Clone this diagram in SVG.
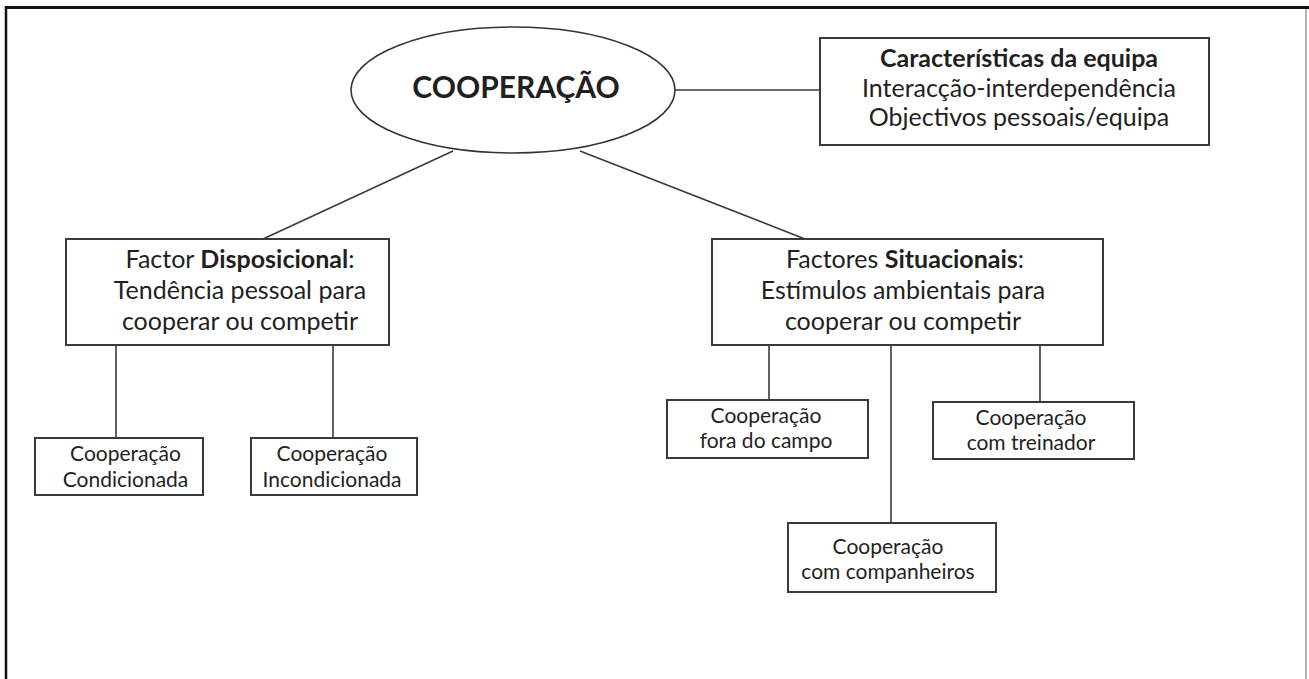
<svg xmlns="http://www.w3.org/2000/svg" width="1309" height="679" viewBox="0 0 1309 679">
<style>
  .box { fill: #fff; stroke: #3a3a3a; stroke-width: 2; }
  .conn line { stroke: #3a3a3a; stroke-width: 1.6; }
  text { font-family: Lato, "Open Sans", "Liberation Sans", sans-serif; fill: #231f20; text-anchor: middle; }
  .big { font-size: 25px; }
  .small { font-size: 21px; }
  .b { font-weight: bold; }
</style>
<rect width="1309" height="679" fill="#fff"/>
<g id="frame">
  <line x1="6" y1="7.5" x2="1309" y2="7.5" stroke="#111" stroke-width="3"/>
  <line x1="6" y1="6" x2="6" y2="679" stroke="#111" stroke-width="2.5"/>
  <line x1="1306" y1="9" x2="1306" y2="679" stroke="#999" stroke-width="1.5"/>
</g>
<g id="connectors" class="conn">
  <line x1="675" y1="90" x2="820" y2="90"/>
  <line x1="453" y1="151" x2="263" y2="239"/>
  <line x1="580" y1="151" x2="805" y2="239"/>
  <line x1="116" y1="345" x2="116" y2="438"/>
  <line x1="333" y1="345" x2="333" y2="438"/>
  <line x1="769" y1="345" x2="769" y2="400"/>
  <line x1="891" y1="345" x2="891" y2="523"/>
  <line x1="1040" y1="345" x2="1040" y2="402"/>
</g>
<g id="cooperacao">
  <ellipse cx="513" cy="90" rx="162" ry="63" fill="#fff" stroke="#333" stroke-width="1.6"/>
  <text x="516" y="98" class="b" style="font-size:30px">COOPERAÇÃO</text>
</g>
<g id="caracteristicas">
  <rect class="box" x="820" y="38" width="389" height="107"/>
  <text x="1019" y="67" class="big b">Características da equipa</text>
  <text x="1019" y="97" class="big">Interacção-interdependência</text>
  <text x="1019" y="126" class="big">Objectivos pessoais/equipa</text>
</g>
<g id="disposicional">
  <rect class="box" x="66" y="239" width="323" height="106"/>
  <text x="240" y="268" class="big">Factor <tspan class="b">Disposicional</tspan>:</text>
  <text x="240" y="299" class="big">Tendência pessoal para</text>
  <text x="240" y="330" class="big">cooperar ou competir</text>
</g>
<g id="situacionais">
  <rect class="box" x="712" y="239" width="391" height="106"/>
  <text x="905" y="268" class="big">Factores <tspan class="b">Situacionais</tspan>:</text>
  <text x="903" y="299" class="big">Estímulos ambientais para</text>
  <text x="903" y="330" class="big">cooperar ou competir</text>
</g>
<g id="condicionada">
  <rect class="box" x="35" y="438" width="168" height="57"/>
  <text x="125.5" y="461" class="small">Cooperação</text>
  <text x="125.5" y="487" class="small">Condicionada</text>
</g>
<g id="incondicionada">
  <rect class="box" x="251" y="438" width="166" height="57"/>
  <text x="332" y="461" class="small">Cooperação</text>
  <text x="332" y="487" class="small">Incondicionada</text>
</g>
<g id="fora-do-campo">
  <rect class="box" x="667" y="400" width="201" height="58"/>
  <text x="766" y="423" class="small">Cooperação</text>
  <text x="766" y="448" class="small">fora do campo</text>
</g>
<g id="treinador">
  <rect class="box" x="933" y="402" width="201" height="57"/>
  <text x="1031" y="425" class="small">Cooperação</text>
  <text x="1031" y="450" class="small">com treinador</text>
</g>
<g id="companheiros">
  <rect class="box" x="788" y="523" width="208" height="69"/>
  <text x="888" y="554" class="small">Cooperação</text>
  <text x="888" y="579" class="small">com companheiros</text>
</g>
</svg>
